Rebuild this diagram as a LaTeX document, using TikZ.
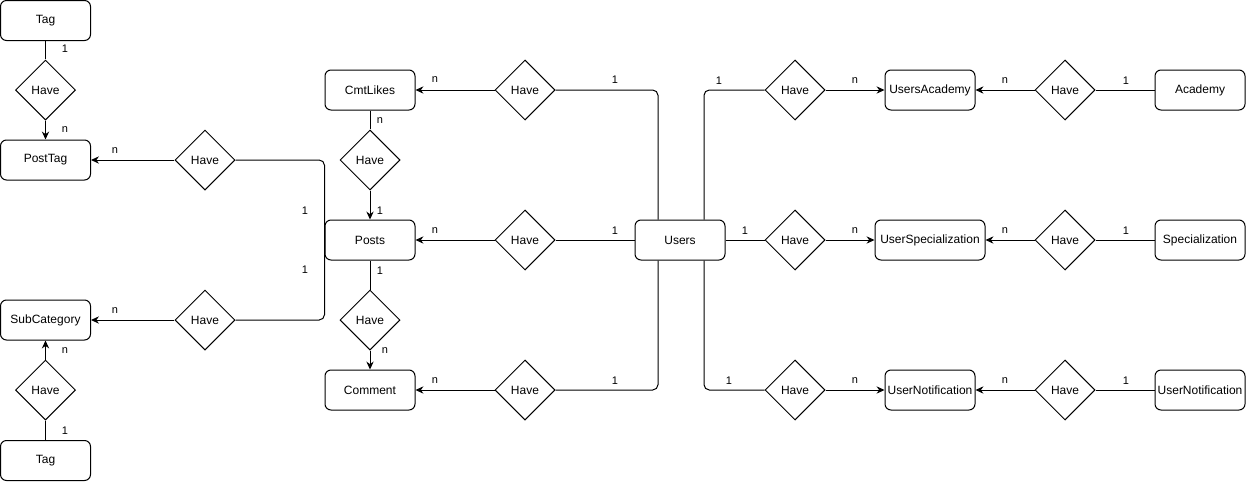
\documentclass[tikz,border=0pt]{standalone}
\usepackage{fontspec}
\setmainfont{Liberation Sans}
\usetikzlibrary{shapes.geometric,arrows.meta}
\begin{document}
\begin{tikzpicture}[x=0.75pt,y=-0.75pt,
  ent/.style={draw,rounded corners=4.5pt,minimum width=67.5pt,minimum height=30pt,inner sep=1pt,font=\fontsize{9}{11}\selectfont,line width=0.75pt},
  rel/.style={draw,diamond,aspect=1,minimum width=45pt,minimum height=45pt,inner sep=0pt,font=\fontsize{9}{11}\selectfont,line width=0.75pt},
  lbl/.style={inner sep=0pt,font=\fontsize{8.25}{10}\selectfont},
  conn/.style={line width=0.75pt,rounded corners=4pt},
  arr/.style={conn,-{Stealth[length=6pt,width=5.5pt,inset=2pt]}}]
\useasboundingbox (0,0) rectangle (1246,482);
% entities
\node[ent] (tag1) at (45.5,20.5) {Tag};
\node[ent] (posttag) at (45.5,160) {PostTag};
\node[ent] (subcat) at (45.5,320) {SubCategory};
\node[ent] (tag2) at (45.5,460.5) {Tag};
\node[ent] (cmt) at (370,90) {CmtLikes};
\node[ent] (posts) at (370,240) {Posts};
\node[ent] (comment) at (370,390) {Comment};
\node[ent] (users) at (680,240) {Users};
\node[ent] (ua) at (930,90) {UsersAcademy};
\node[ent,minimum width=82.5pt] (uspec) at (930,240) {UserSpecialization};
\node[ent] (unot) at (930,390) {UserNotification};
\node[ent] (acad) at (1200,90) {Academy};
\node[ent] (spec) at (1200,240) {Specialization};
\node[ent] (unot2) at (1200,390) {UserNotification};
% relationships
\node[rel] (h1) at (45.5,90) {Have};
\node[rel] (h2) at (205,160) {Have};
\node[rel] (h3) at (205,320) {Have};
\node[rel] (h4) at (45.5,390) {Have};
\node[rel] (h5) at (525,90) {Have};
\node[rel] (h6) at (370,160) {Have};
\node[rel] (h7) at (525,240) {Have};
\node[rel] (h8) at (370,320) {Have};
\node[rel] (h9) at (525,390) {Have};
\node[rel] (h10) at (795,90) {Have};
\node[rel] (h11) at (795,240) {Have};
\node[rel] (h12) at (795,390) {Have};
\node[rel] (h13) at (1065,90) {Have};
\node[rel] (h14) at (1065,240) {Have};
\node[rel] (h15) at (1065,390) {Have};
% connectors left
\draw[conn] (tag1) -- (h1);
\draw[arr] (h1) -- (posttag);
\draw[arr] (h2) -- (posttag);
\draw[conn] (h2.east) -| (posts.west);
\draw[conn] (h3.east) -| (posts.west);
\draw[arr] (h3) -- (subcat);
\draw[conn] (tag2) -- (h4);
\draw[arr] (h4) -- (subcat);
\draw[arr] (h5) -- (cmt);
\draw[conn] (cmt) -- (h6);
\draw[arr] (h6) -- (posts);
\draw[conn] (users) -- (h7);
\draw[arr] (h7) -- (posts);
\draw[conn] (posts) -- (h8);
\draw[arr] (h8) -- (comment);
\draw[arr] (h9) -- (comment);
\draw[conn] ([xshift=-16.5pt]users.north) |- (h5.east);
\draw[conn] ([xshift=-16.5pt]users.south) |- (h9.east);
% connectors right
\draw[conn] ([xshift=18pt]users.north) |- (h10.west);
\draw[conn] ([xshift=18pt]users.south) |- (h12.west);
\draw[conn] (users) -- (h11);
\draw[arr] (h10) -- (ua);
\draw[arr] (h11) -- (uspec);
\draw[arr] (h12) -- (unot);
\draw[conn] (acad) -- (h13);
\draw[conn] (spec) -- (h14);
\draw[conn] (unot2) -- (h15);
\draw[arr] (h13) -- (ua);
\draw[arr] (h14) -- (uspec);
\draw[arr] (h15) -- (unot);
% cardinality labels
\node[lbl] (c1) at (65,49) {1};
\node[lbl] (c2) at (65,130) {n};
\node[lbl] (c3) at (115,151) {n};
\node[lbl] (c4) at (305,211) {1};
\node[lbl] (c5) at (305,270) {1};
\node[lbl] (c6) at (115,311) {n};
\node[lbl] (c7) at (65,351) {n};
\node[lbl] (c8) at (65,431) {1};
\node[lbl] (c9) at (435,80) {n};
\node[lbl] (c10) at (615,80) {1};
\node[lbl] (c11) at (380,121) {n};
\node[lbl] (c12) at (380,211) {1};
\node[lbl] (c13) at (435,231) {n};
\node[lbl] (c14) at (615,231) {1};
\node[lbl] (c15) at (380,271) {1};
\node[lbl] (c16) at (385,351) {n};
\node[lbl] (c17) at (435,381) {n};
\node[lbl] (c18) at (615,381) {1};
\node[lbl] (c19) at (719,81) {1};
\node[lbl] (c20) at (855,81) {n};
\node[lbl] (c21) at (1005,81) {n};
\node[lbl] (c22) at (1126,81) {1};
\node[lbl] (c23) at (745,231) {1};
\node[lbl] (c24) at (855,231) {n};
\node[lbl] (c25) at (1005,231) {n};
\node[lbl] (c26) at (1126,231) {1};
\node[lbl] (c27) at (729,381) {1};
\node[lbl] (c28) at (855,381) {n};
\node[lbl] (c29) at (1005,381) {n};
\node[lbl] (c30) at (1126,381) {1};
\end{tikzpicture}
\end{document}
